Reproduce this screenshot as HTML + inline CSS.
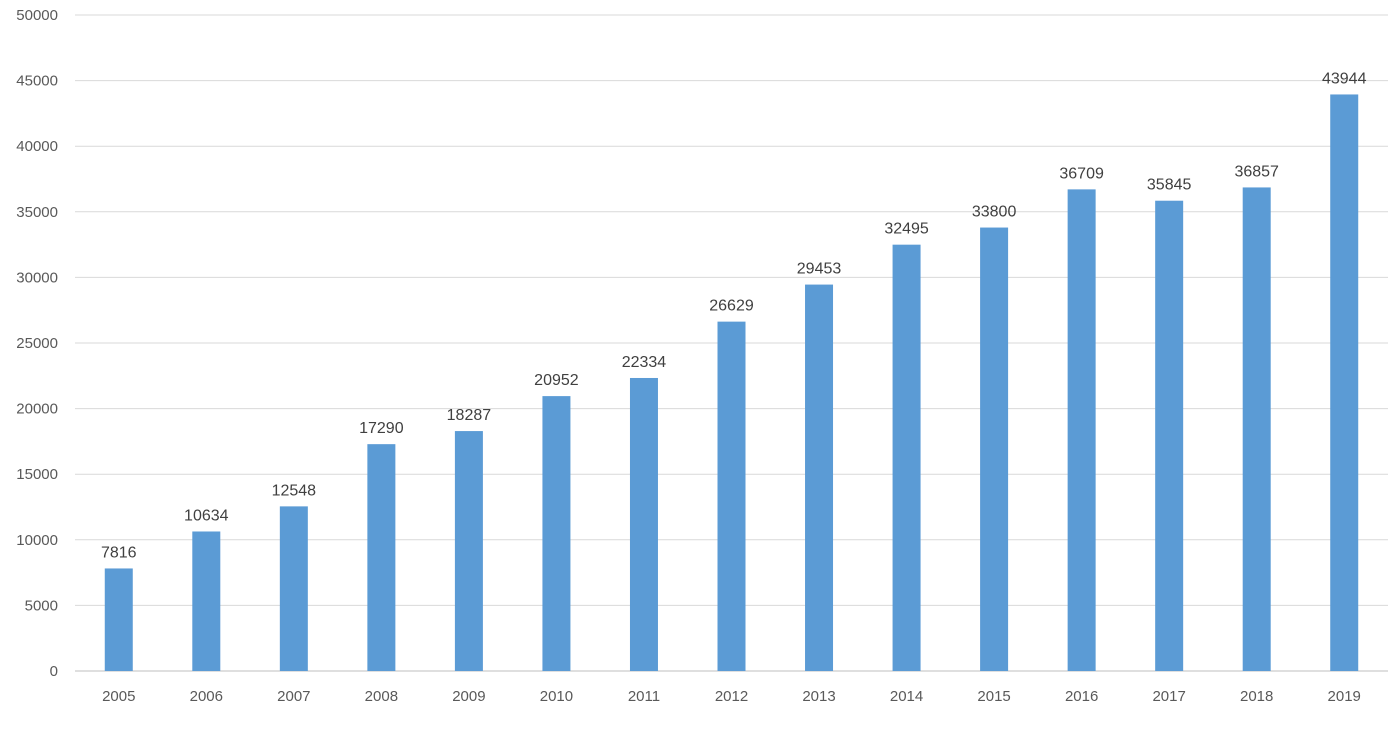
<!DOCTYPE html>
<html><head><meta charset="utf-8"><style>
html,body{margin:0;padding:0;background:#fff;}
svg{display:block;font-family:"Liberation Sans",sans-serif;}
</style></head><body>
<svg id="chart" width="1400" height="740"></svg>
<script>
const categories=["2005","2006","2007","2008","2009","2010","2011","2012","2013","2014","2015","2016","2017","2018","2019"];
const values=[7816,10634,12548,17290,18287,20952,22334,26629,29453,32495,33800,36709,35845,36857,43944];
const yTicks=[0,5000,10000,15000,20000,25000,30000,35000,40000,45000,50000];
const NS="http://www.w3.org/2000/svg";
const svgEl=document.getElementById('chart');
const plotLeft=75,plotRight=1388,plotTop=15,plotBottom=671,yMax=50000;
const band=(plotRight-plotLeft)/categories.length,barW=28;
const yScale=v=>plotBottom-(v/yMax)*(plotBottom-plotTop);
const xc=i=>plotLeft+band*(i+0.5);
function mk(t,a){const e=document.createElementNS(NS,t);for(const k in a)e.setAttribute(k,a[k]);svgEl.appendChild(e);return e;}
yTicks.forEach(t=>{
  const l=mk('line',{x1:plotLeft,x2:plotRight,y1:yScale(t),y2:yScale(t),stroke:t===0?'#bfbfbf':'#d9d9d9','stroke-width':1});
  
  
  const tx=mk('text',{x:58,y:yScale(t)+5,'text-anchor':'end','font-size':15,fill:'#595959'});
  tx.textContent=t;
  
  
});
categories.forEach((c,i)=>{
  const r=mk('rect',{x:xc(i)-barW/2,y:yScale(values[i]),width:barW,height:plotBottom-yScale(values[i]),fill:'#5B9BD5'});
  
  
  const v=mk('text',{x:xc(i),y:yScale(values[i])-11,'text-anchor':'middle','font-size':16,fill:'#404040'});
  v.textContent=values[i];
  
  
  const xl=mk('text',{x:xc(i),y:701,'text-anchor':'middle','font-size':15,fill:'#595959'});
  xl.textContent=c;
  
  
});
</script>
</body></html>
